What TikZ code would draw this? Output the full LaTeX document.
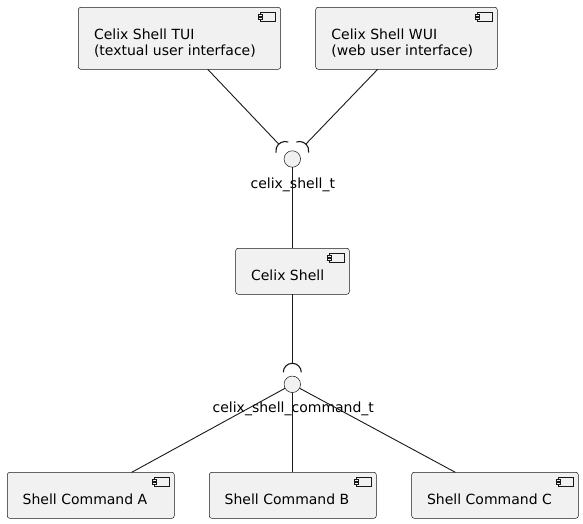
\documentclass[tikz,border=0pt]{standalone}
\usepackage{fontspec}
\setmainfont{DejaVu Sans}
\usetikzlibrary{calc}
\definecolor{boxfill}{HTML}{F1F1F1}
\definecolor{boxline}{HTML}{181818}
\newcommand{\compicon}[1]{%
  \draw[iconline] ($(#1.north east)+(-20.3,5)$) rectangle ++(15.3,9);
  \draw[iconline] ($(#1.north east)+(-22.3,6.8)$) rectangle ++(4,2);
  \draw[iconline] ($(#1.north east)+(-22.3,10.4)$) rectangle ++(4,2);
}
\begin{document}
\begin{tikzpicture}[x=1pt,y=-1pt,
  comp/.style={draw=boxline, fill=boxfill, line width=0.5pt, rounded corners=2.5pt,
    rectangle, inner sep=0pt, outer sep=0pt},
  iconline/.style={draw=boxline, fill=boxfill, line width=0.5pt},
  txt/.style={inner sep=0pt, outer sep=0pt, font=\fontsize{14}{16}\selectfont, text=black},
  iface/.style={circle, draw=boxline, fill=boxfill, line width=0.5pt, minimum size=16.5pt,
    inner sep=0pt, outer sep=0pt},
  conn/.style={draw=boxline, line width=0.9pt},
  sock/.style={draw=boxline, line width=1.1pt}
]
\useasboundingbox (0,0) rectangle (583,523);

% components
\node[comp, minimum width=202.4pt, minimum height=62pt] (tui) at (179.5,38.3) {};
\node[comp, minimum width=181.6pt, minimum height=62pt] (wui) at (406.5,38.3) {};
\node[comp, minimum width=113.6pt, minimum height=46pt] (shell) at (292.5,271.3) {};
\node[comp, minimum width=167pt, minimum height=46pt] (cmda) at (90.8,495.3) {};
\node[comp, minimum width=167pt, minimum height=46pt] (cmdb) at (292.8,495.3) {};
\node[comp, minimum width=166.6pt, minimum height=46pt] (cmdc) at (495,495.3) {};

\compicon{tui}
\compicon{wui}
\compicon{shell}
\compicon{cmda}
\compicon{cmdb}
\compicon{cmdc}

% texts
\node[txt, anchor=base west] (tuit1) at ($(tui.north west)+(15.7,32)$) {Celix Shell TUI};
\node[txt, anchor=base west] (tuit2) at ($(tui.north west)+(15.7,48)$) {(textual user interface)};
\node[txt, anchor=base west] (wuit1) at ($(wui.north west)+(15.7,32)$) {Celix Shell WUI};
\node[txt, anchor=base west] (wuit2) at ($(wui.north west)+(15.7,48)$) {(web user interface)};
\node[txt, anchor=base west] (shellt) at ($(shell.north west)+(15.4,32.4)$) {Celix Shell};
\node[txt, anchor=base west] (cmdat) at ($(cmda.north west)+(15.4,32.6)$) {Shell Command A};
\node[txt, anchor=base west] (cmdbt) at ($(cmdb.north west)+(15.4,32.6)$) {Shell Command B};
\node[txt, anchor=base west] (cmdct) at ($(cmdc.north west)+(15.4,32.6)$) {Shell Command C};

% interfaces
\node[iface] (i1) at (292.3,159) {};
\node[iface] (i2) at (292.3,384.3) {};
\node[txt, anchor=base] (i1l) at (292.8,188.3) {celix\_shell\_t};
\node[txt, anchor=base] (i2l) at (293.3,412.7) {celix\_shell\_command\_t};

% sockets
\coordinate (s1c) at (285.2,150.9);
\coordinate (s2c) at (299.4,150.9);
\coordinate (s3c) at (292.3,372.3);
\coordinate (s1) at ($(s1c)+(-133.5:9.4)$);
\coordinate (s2) at ($(s2c)+(-46.5:9.4)$);
\coordinate (s3) at ($(s3c)+(-90:9)$);
\draw[sock] ($(s1c)+(-71:9.4)$) arc[start angle=-71, end angle=-191, radius=9.4];
\draw[sock] ($(s2c)+(-109:9.4)$) arc[start angle=-109, end angle=11, radius=9.4];
\draw[sock] ($(s3c)+(0:9)$) arc[start angle=0, end angle=-180, radius=9];

% connectors
\draw[conn] ([xshift=28.2pt]tui.south) -- (s1);
\draw[conn] ([xshift=-28.8pt]wui.south) -- (s2);
\draw[conn] (i1) -- (i1 |- shell.north);
\draw[conn] (shell.south -| s3) -- (s3);
\draw[conn] (i2) -- ([xshift=40.9pt]cmda.north);
\draw[conn] (i2) -- (i2 |- cmdb.north);
\draw[conn] (i2) -- ([xshift=-39.7pt]cmdc.north);
\end{tikzpicture}
\end{document}
